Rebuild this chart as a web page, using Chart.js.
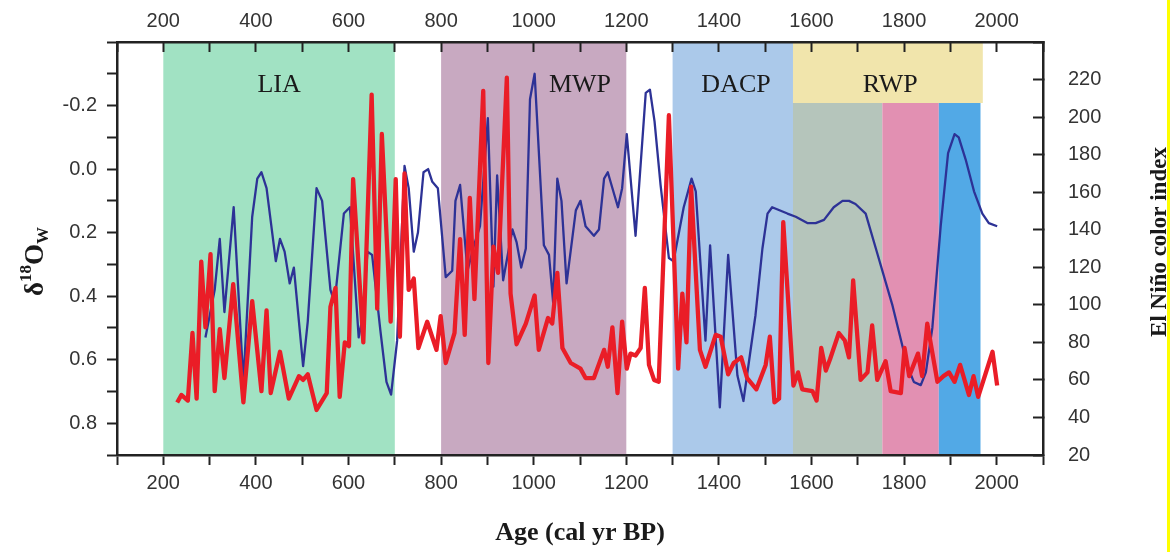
<!DOCTYPE html>
<html>
<head>
<meta charset="utf-8">
<script src="https://cdn.jsdelivr.net/npm/chart.js@4.4.1/dist/chart.umd.min.js"></script>
<style>
  html, body { margin: 0; padding: 0; background: #fff; }
  #wrap { width: 1170px; height: 552px; }
</style>
</head>
<body>
<div id="wrap"><canvas id="chart" width="1170" height="552"></canvas></div>
<script>
// blue curve: δ18Ow, left axis (reversed)
const blueAge = [291,311,322,332,352,373,392,403,412,423,
  443,452,462,473,482,502,512,531,543,561,
  570,590,603,611,622,630,641,651,669,682,
  692,705,721,730,741,750,762,772,781,793,
  810,824,831,841,857,871,884,901,913,921,
  934,954,963,973,983,992,1002,1022,1033,1042,
  1051,1060,1071,1091,1101,1112,1130,1141,1152,1160,
  1182,1191,1201,1220,1242,1251,1261,1274,1292,1302,
  1324,1341,1350,1371,1381,1402,1420,1440,1453,1479,
  1494,1505,1515,1548,1566,1591,1609,1627,1648,1667,
  1681,1695,1717,1739,1775,1807,1821,1836,1847,1861,
  1879,1895,1909,1918,1933,1951,1969,1983,2001];
const blueD18O = [0.53,0.38,0.22,0.45,0.12,0.67,0.15,0.03,0.01,0.06,
  0.29,0.22,0.26,0.36,0.31,0.62,0.48,0.06,0.10,0.38,
  0.42,0.14,0.12,0.29,0.53,0.47,0.26,0.27,0.51,0.67,
  0.71,0.54,-0.01,0.06,0.26,0.20,0.01,0.00,0.04,0.06,
  0.34,0.32,0.10,0.05,0.32,0.24,0.18,-0.16,0.37,0.02,
  0.35,0.19,0.23,0.31,0.25,-0.22,-0.30,0.24,0.27,0.42,
  0.03,0.10,0.36,0.13,0.10,0.18,0.21,0.19,0.03,0.01,
  0.12,0.06,-0.11,0.21,-0.24,-0.25,-0.15,0.05,0.28,0.29,
  0.12,0.03,0.07,0.54,0.24,0.75,0.27,0.65,0.73,0.46,
  0.25,0.14,0.12,0.14,0.15,0.17,0.17,0.16,0.12,0.10,
  0.10,0.11,0.14,0.25,0.43,0.62,0.67,0.68,0.64,0.50,
  0.18,-0.05,-0.11,-0.10,-0.03,0.07,0.14,0.17,0.18];

// red curve: El Niño color index, right axis
const redAge = [230,239,253,263,272,282,291,302,311,322,
  332,351,373,392,412,423,432,452,471,493,
  502,512,531,553,561,572,581,592,601,610,
  632,650,662,672,691,702,711,721,730,741,
  751,770,790,799,810,829,841,851,862,872,
  891,902,913,923,942,950,963,983,1002,1011,
  1031,1040,1051,1062,1080,1101,1112,1130,1152,1160,
  1170,1181,1191,1201,1209,1220,1231,1240,1249,1260,
  1270,1292,1312,1321,1330,1340,1359,1371,1393,1404,
  1420,1432,1448,1461,1481,1501,1510,1520,1530,1539,
  1561,1571,1580,1602,1611,1621,1631,1640,1659,1672,
  1681,1690,1706,1721,1731,1742,1760,1771,1793,1801,
  1811,1830,1839,1850,1872,1885,1897,1909,1921,1940,
  1950,1960,1991,2001];
const redENSO = [48,52,49,85,50,123,88,127,54,87,
  61,111,48,102,54,97,53,75,50,62,
  60,63,44,53,99,109,51,80,78,167,
  80,212,98,191,91,167,83,170,108,114,
  77,91,76,94,69,85,135,84,157,103,
  214,69,131,117,221,106,79,90,105,76,
  93,90,117,77,69,66,61,61,76,67,
  88,53,91,66,74,73,77,109,68,60,
  59,201,66,106,80,163,76,67,84,83,
  63,69,72,61,55,68,83,48,50,144,
  57,64,55,54,49,77,65,71,85,81,
  72,113,60,64,89,60,70,54,53,77,
  62,74,62,90,59,62,64,59,68,52,
  62,51,75,57];

// climate periods (cal yr BP)
const periodNames = ["LIA", "MWP", "DACP", "RWP"];
const periodStart = [200, 800, 1300, 1560];
const periodEnd = [700, 1200, 1560, 1970];
const periodLabelAge = [450, 1100, 1437, 1770];
// RWP sub-phases below its header
const subStart = [1560, 1753, 1875];
const subEnd = [1753, 1875, 1965];
const rwpHeaderBottom = 207.5; // El Niño axis units
const periodLabelLevel = 217;

const periodColors = ["#a1e2c3", "#c8a9c1", "#abc9ea", "#f1e5ac"];
const subColors = ["#b5c5bb", "#e290b2", "#52a9e6"];

const serif = '"Liberation Serif", "Times New Roman", serif';
Chart.defaults.font.family = '"Liberation Sans", Arial, sans-serif';
Chart.defaults.font.size = 20;
Chart.defaults.color = "#333";

const periodBands = {
  id: "periodBands",
  beforeDraw(chart) {
    const { ctx, chartArea: a, scales } = chart;
    const x = scales.x, y2 = scales.y2;
    const headerY = y2.getPixelForValue(rwpHeaderBottom);
    ctx.save();
    periodNames.forEach((name, i) => {
      const x0 = x.getPixelForValue(periodStart[i]);
      const x1 = x.getPixelForValue(periodEnd[i]);
      const yb = name === "RWP" ? headerY : a.bottom;
      ctx.fillStyle = periodColors[i];
      ctx.fillRect(x0, a.top, x1 - x0, yb - a.top);
    });
    subStart.forEach((s, i) => {
      const x0 = x.getPixelForValue(s);
      const x1 = x.getPixelForValue(subEnd[i]);
      ctx.fillStyle = subColors[i];
      ctx.fillRect(x0, headerY, x1 - x0, a.bottom - headerY);
    });
    ctx.fillStyle = "#1a1a1a";
    ctx.font = "26px " + serif;
    ctx.textAlign = "center";
    ctx.textBaseline = "middle";
    periodNames.forEach((name, i) => {
      ctx.fillText(name, x.getPixelForValue(periodLabelAge[i]), y2.getPixelForValue(periodLabelLevel));
    });
    ctx.restore();
  },
};

const sideTitles = {
  id: "sideTitles",
  afterDraw(chart) {
    const { ctx } = chart;
    ctx.save();
    ctx.fillStyle = "#1a1a1a";
    ctx.textBaseline = "alphabetic";
    ctx.textAlign = "left";
    // left: δ18Ow
    ctx.translate(43, 296);
    ctx.rotate(-Math.PI / 2);
    const big = "bold 27px " + serif, small = "bold 17px " + serif;
    let px = 0;
    ctx.font = big; ctx.fillText("δ", px, 0); px += ctx.measureText("δ").width;
    ctx.font = small; ctx.fillText("18", px, -12); px += ctx.measureText("18").width;
    ctx.font = big; ctx.fillText("O", px, 0); px += ctx.measureText("O").width;
    ctx.font = small; ctx.fillText("W", px, 5);
    ctx.restore();

    // right: El Niño color index
    ctx.save();
    ctx.fillStyle = "#1a1a1a";
    ctx.font = "bold 23px " + serif;
    ctx.textAlign = "center";
    ctx.textBaseline = "alphabetic";
    ctx.translate(1166, 242);
    ctx.rotate(-Math.PI / 2);
    ctx.fillText("El Niño color index", 0, 0);
    ctx.restore();

    ctx.save();
    ctx.fillStyle = "#ffff00";
    ctx.fillRect(1167, 0, 3, chart.height);
    ctx.restore();
  },
};

const ageLabel = (v) => (v % 200 === 0 && v >= 200 && v <= 2000 ? String(v) : "");
const tickGrid = (len) => ({ drawOnChartArea: false, tickLength: len, tickWidth: 2, tickColor: "#222" });
const frame = { color: "#222", width: 2.5 };
// pin the plot frame: fixed axis boxes, no extra edge padding
const fixSize = (prop, size) => (s) => {
  s[prop] = size;
  s.paddingTop = 0;
  s.paddingBottom = 0;
  s.paddingLeft = 0;
  s.paddingRight = 0;
};

new Chart(document.getElementById("chart"), {
  type: "line",
  data: {
    datasets: [
      {
        label: "El Niño color index",
        data: redAge.map((a, i) => ({ x: a, y: redENSO[i] })),
        xAxisID: "x",
        yAxisID: "y2",
        borderColor: "#ea1d27",
        borderWidth: 4.3,
        borderJoinStyle: "round",
        pointRadius: 0,
        tension: 0,
        order: 1,
      },
      {
        label: "δ18Ow",
        data: blueAge.map((a, i) => ({ x: a, y: blueD18O[i] })),
        xAxisID: "x",
        yAxisID: "y",
        borderColor: "#2d3296",
        borderWidth: 2.3,
        borderJoinStyle: "round",
        pointRadius: 0,
        tension: 0,
        order: 2,
      },
    ],
  },
  options: {
    responsive: false,
    animation: false,
    layout: { padding: 0, autoPadding: false },
    plugins: { legend: { display: false }, tooltip: { enabled: false } },
    scales: {
      x: {
        type: "linear",
        position: "bottom",
        min: 100,
        max: 2100,
        ticks: { stepSize: 100, autoSkip: false, maxRotation: 0, padding: 6, callback: ageLabel },
        grid: tickGrid(10),
        border: frame,
        title: {
          display: true,
          text: "Age (cal yr BP)",
          color: "#1a1a1a",
          font: { family: serif, size: 26, weight: "bold" },
          padding: { top: 0, bottom: 3 },
        },
        afterFit: fixSize("height", 97),
      },
      xTop: {
        type: "linear",
        position: "top",
        min: 100,
        max: 2100,
        ticks: { stepSize: 100, autoSkip: false, maxRotation: 0, padding: 19, callback: ageLabel },
        grid: tickGrid(-10),
        border: frame,
        afterFit: fixSize("height", 42),
      },
      y: {
        type: "linear",
        position: "left",
        reverse: true,
        min: -0.4,
        max: 0.9,
        ticks: {
          stepSize: 0.1,
          autoSkip: false,
          padding: 10,
          callback: (v) => {
            const k = Math.round(v * 10);
            return k % 2 === 0 && k > -4 ? (k / 10).toFixed(1) : "";
          },
        },
        grid: tickGrid(10),
        border: frame,
        afterFit: fixSize("width", 117),
      },
      y2: {
        type: "linear",
        position: "right",
        min: 20,
        max: 240,
        ticks: { stepSize: 20, autoSkip: false, padding: 35, callback: (v) => (v < 240 ? String(v) : "") },
        grid: tickGrid(-10),
        border: frame,
        afterFit: fixSize("width", 127),
      },
    },
  },
  plugins: [periodBands, sideTitles],
});
</script>
</body>
</html>
